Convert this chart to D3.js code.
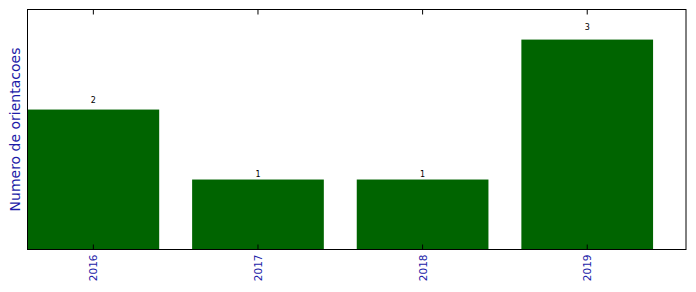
<!DOCTYPE html>
<html>
<head>
<meta charset="utf-8">
<script src="https://cdn.jsdelivr.net/npm/d3@7"></script>
<style>
  body { margin: 0; background: #fff; }
  text { font-family: "DejaVu Sans", sans-serif; }
</style>
</head>
<body>
<script>
let years = ["2016", "2017", "2018", "2019"];
let counts = [2, 1, 1, 3];
let yLabel = "Numero de orientacoes";

let width = 696;
let height = 292;
let margin = { left: 27.5, right: 10, top: 9.5, bottom: 42.5 };
let plotW = width - margin.left - margin.right;
let plotH = height - margin.top - margin.bottom;

// matplotlib-like limits: bars of width 0.8, xlim [-0.4, n-0.4]
let xScale = d3.scaleLinear().domain([-0.4, years.length - 0.4]).range([0, plotW]);
let yScale = d3.scaleLinear().domain([0, 3.43]).range([plotH, 0]);

let svg = d3.select("body").append("svg")
  .attr("width", width)
  .attr("height", height);

let g = svg.append("g")
  .attr("transform", `translate(${margin.left},${margin.top})`);

g.selectAll("rect")
  .data(counts)
  .enter()
  .append("rect")
  .attr("x", (d, i) => xScale(i - 0.4))
  .attr("width", xScale(0.8) - xScale(0))
  .attr("y", (d) => yScale(d))
  .attr("height", (d) => plotH - yScale(d))
  .attr("fill", "#006400");

g.selectAll(".val")
  .data(counts)
  .enter()
  .append("text")
  .attr("class", "val")
  .attr("x", (d, i) => xScale(i))
  .attr("y", (d) => yScale(d * 1.05) + 0.5)
  .attr("text-anchor", "middle")
  .attr("font-size", "8px")
  .attr("fill", "#000")
  .text((d) => d);

// ticks inside, top and bottom
let ticks = d3.range(years.length);
g.selectAll(".tb")
  .data(ticks)
  .enter()
  .append("line")
  .attr("x1", (d) => xScale(d)).attr("x2", (d) => xScale(d))
  .attr("y1", plotH).attr("y2", plotH - 5)
  .attr("stroke", "#000");
g.selectAll(".tt")
  .data(ticks)
  .enter()
  .append("line")
  .attr("x1", (d) => xScale(d)).attr("x2", (d) => xScale(d))
  .attr("y1", 0).attr("y2", 5)
  .attr("stroke", "#000");

g.append("rect")
  .attr("width", plotW)
  .attr("height", plotH)
  .attr("fill", "none")
  .attr("stroke", "#000")
  .attr("stroke-width", 1);

g.selectAll(".xl")
  .data(years)
  .enter()
  .append("text")
  .attr("transform", (d, i) => `translate(${xScale(i) + 4},${plotH + 5}) rotate(-90)`)
  .attr("text-anchor", "end")
  .attr("font-size", "10.5px")
  .attr("fill", "#1c1ca8")
  .text((d) => d);

svg.append("text")
  .attr("transform", `translate(19.5,${margin.top + plotH / 2}) rotate(-90)`)
  .attr("text-anchor", "middle")
  .attr("font-size", "14px")
  .attr("fill", "#1c1ca8")
  .text(yLabel);
</script>
</body>
</html>
